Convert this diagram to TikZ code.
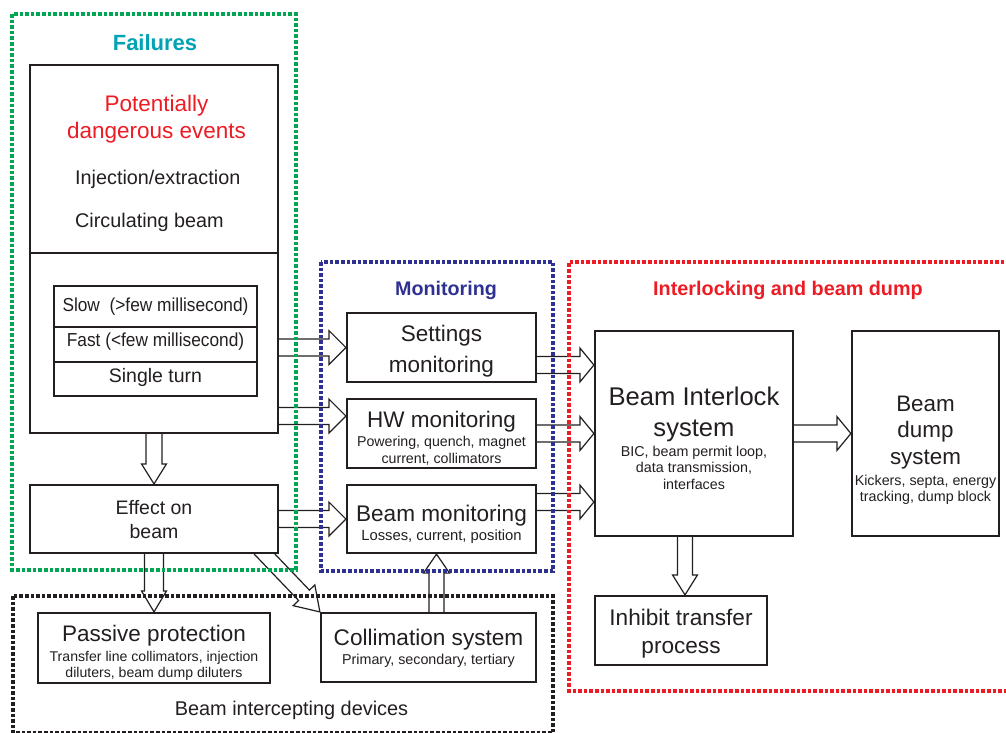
\documentclass[tikz,border=0pt]{standalone}
\usepackage{fontspec}
\setmainfont{Liberation Sans}
\usetikzlibrary{calc,backgrounds}
\definecolor{ink}{HTML}{231F20}
\definecolor{fgreen}{HTML}{00A651}
\definecolor{fblue}{HTML}{2E3192}
\definecolor{fred}{HTML}{ED1C24}
\definecolor{fteal}{HTML}{00A3B4}
\newcommand\fs[2]{\fontsize{#1}{#2}\selectfont}
% add extra height above a line (moves the whole centred block down by half of it)
\newcommand\padtop[2]{\raisebox{0pt}[\dimexpr\height+#1\relax][\depth]{#2}}
% add extra depth below a line (moves the whole centred block up by half of it)
\newcommand\padbot[2]{\raisebox{0pt}[\height][\dimexpr\depth+#1\relax]{#2}}
\newcommand\fatarrow[5]{%
  \coordinate (faA) at (#1);
  \coordinate (faB) at (#2);
  \coordinate (faH) at ($(faB)!#5pt!(faA)$);
  \draw[fatline] ($(faA)!#3pt!90:(faB)$) -- ($(faH)!#3pt!90:(faB)$) -- ($(faH)!#4pt!90:(faB)$) -- (faB)
     -- ($(faH)!#4pt!-90:(faB)$) -- ($(faH)!#3pt!-90:(faB)$) -- ($(faA)!#3pt!-90:(faB)$) -- cycle;
}
\tikzset{
  blk/.style={draw=ink, line width=2.2pt, fill=white, inner sep=0pt, align=center, text=ink},
  rowbox/.style={draw=ink, line width=1.1pt, fill=white, inner sep=0pt, minimum width=203pt, text=ink, font=\fs{18.8}{22}},
  region/.style={line width=3.8pt, dash pattern=on 3.6pt off 2pt},
  fatline/.style={draw=ink, line width=1.2pt, line join=miter},
  txt/.style={inner sep=0pt, text=ink, align=center},
}
\begin{document}
\begin{tikzpicture}[x=1pt, y=-1pt]
\useasboundingbox (0,0) rectangle (1006,732);

% region frames
\draw[region, fgreen] (12,14) rectangle (296,570);
\draw[region, fblue] (321,262) rectangle (553,571);
\draw[region, fred] (1010,262) -- (569,262) -- (569,691) -- (1010,691);
\draw[region, ink] (13,596) rectangle (553,733);

\node[txt, font=\fs{22}{26}\bfseries, text=fteal] (tfail) at (155,43) {Failures};
\node[txt, font=\fs{19.7}{24}\bfseries, text=fblue] (tmon) at (446,290) {Monitoring};
\node[txt, font=\fs{19.8}{24}\bfseries, text=fred] (tint) at (788,290) {Interlocking and beam dump};
\node[txt, font=\fs{19.9}{24}] (tbid) at (291.5,710) {Beam intercepting devices};

% Failures box
\node[blk, minimum width=248pt, minimum height=368pt] (fail) at (154,249) {};
\draw[ink, line width=1.2pt] (fail.west |- 0,253) -- (fail.east |- 0,253);
\node[txt, font=\fs{22.5}{27}, text=fred] (pde) at (156.5,119) {Potentially\\dangerous events};
\node[txt, font=\fs{19.8}{24}, anchor=west] (inj) at (75,179) {Injection/extraction};
\node[txt, font=\fs{19.8}{24}, anchor=west] (circ) at (75,222) {Circulating beam};
\node[rowbox, minimum height=41pt] (slow) at (155.5,306.5) {\scalebox{0.92}[1]{Slow\ \ (>few millisecond)}};
\node[rowbox, minimum height=35pt] (fast) at (155.5,344.5) {\padbot{6pt}{\scalebox{0.92}[1]{Fast (<few millisecond)}}};
\node[rowbox, minimum height=34pt, font=\fs{19.5}{22}] (single) at (155.5,379) {\padbot{4pt}{Single turn}};

\node[blk, minimum width=248pt, minimum height=68pt, font=\fs{19.5}{24}] (eff) at (154,519) {\padtop{2pt}{Effect on}\\beam};

% monitoring
\node[blk, minimum width=189pt, minimum height=69pt, font=\fs{22.5}{31}] (set) at (441.5,347.5) {\padtop{8pt}{Settings}\\monitoring};
\node[blk, minimum width=189pt, minimum height=69pt, font=\fs{14.2}{17}] (hw) at (441.5,433.5)
  {\padtop{10pt}{\fs{22.5}{26}HW monitoring}\\[2pt]{\fs{14.2}{17}Powering, quench, magnet}\\{\fs{14.2}{17}current, collimators}};
\node[blk, minimum width=189pt, minimum height=68pt, font=\fs{14.8}{17}] (bm) at (441.5,519)
  {\padtop{10pt}{\fs{22.6}{26}Beam monitoring}\\[2pt]{\fs{14.8}{17}Losses, current, position}};

% interlock
\node[blk, minimum width=198pt, minimum height=205pt, font=\fs{14.3}{16.5}] (bis) at (694,433.5)
  {\padtop{9pt}{\fs{25.6}{30}Beam Interlock}\\[13pt]{\fs{25.6}{30}system}\\[3.5pt]{\fs{14.3}{16.5}BIC, beam permit loop,}\\{\fs{14.3}{16.5}data transmission,}\\{\fs{14.3}{16.5}interfaces}};
\node[blk, minimum width=147pt, minimum height=205pt, font=\fs{14.3}{16}] (dump) at (925.5,433.5)
  {\padtop{33pt}{\fs{22.4}{26}Beam}\\[8.6pt]{\fs{22.4}{26}dump}\\[7pt]{\fs{22.4}{26}system}\\[5pt]{\fs{14.3}{16}Kickers, septa, energy}\\{\fs{14.3}{16}tracking, dump block}};
\node[blk, minimum width=172pt, minimum height=69pt, font=\fs{22.6}{28}] (inh) at (681,630.5) {\padtop{6pt}{Inhibit transfer}\\process};

% beam intercepting devices
\node[blk, minimum width=232pt, minimum height=70pt, font=\fs{14.1}{16}] (pas) at (154,648)
  {\padtop{10pt}{\fs{22.5}{26}Passive protection}\\[4pt]{\fs{14.1}{16}Transfer line collimators, injection}\\{\fs{14.1}{16}diluters, beam dump diluters}};
\node[blk, minimum width=215pt, minimum height=69pt, font=\fs{14.3}{17}] (col) at (428.5,647.5)
  {\padtop{2pt}{\fs{22.6}{26}Collimation system}\\[2pt]{\fs{14.3}{17}Primary, secondary, tertiary}};

% tip coordinates
\coordinate (hwin) at ($(hw.west)+(0,-17.5)$);
\coordinate (bisin1) at ($(bis.west)+(0,-68.5)$);
\coordinate (bisin3) at ($(bis.west)+(0,68.5)$);
\coordinate (bmin) at ($(bm.south)+(-5,0)$);
\coordinate (inhin) at ($(inh.north)+(4,0)$);
\coordinate (effout) at ($(eff.south east)+(-14.5,0)$);
\coordinate (diagtail) at ($(col.north west)!1.5!(effout)$);

\begin{scope}[on background layer]
  \fatarrow{fail.center |- set.west}{set.west}{8.5}{17}{17}
  \fatarrow{fail.center |- hwin}{hwin}{8.5}{17}{17}
  \fatarrow{eff.center |- bm.west}{bm.west}{8.5}{17}{17}
  \fatarrow{set.center |- bisin1}{bisin1}{8.5}{17}{14}
  \fatarrow{hw.center |- bis.west}{bis.west}{8.5}{17}{14}
  \fatarrow{bm.center |- bisin3}{bisin3}{8.5}{17}{14}
  \fatarrow{bis.center |- dump.west}{dump.west}{8.5}{17}{14}
  \fatarrow{fail.center}{eff.north}{8}{12.5}{20}
  \fatarrow{eff.center}{pas.north}{9.5}{12.5}{21}
  \fatarrow{bmin |- col.center}{bmin}{7.5}{13}{19}
  \fatarrow{inhin |- bis.center}{inhin}{7.5}{12.5}{20}
  \fatarrow{diagtail}{col.north west}{7.5}{15}{23}
\end{scope}
\end{tikzpicture}
\end{document}
